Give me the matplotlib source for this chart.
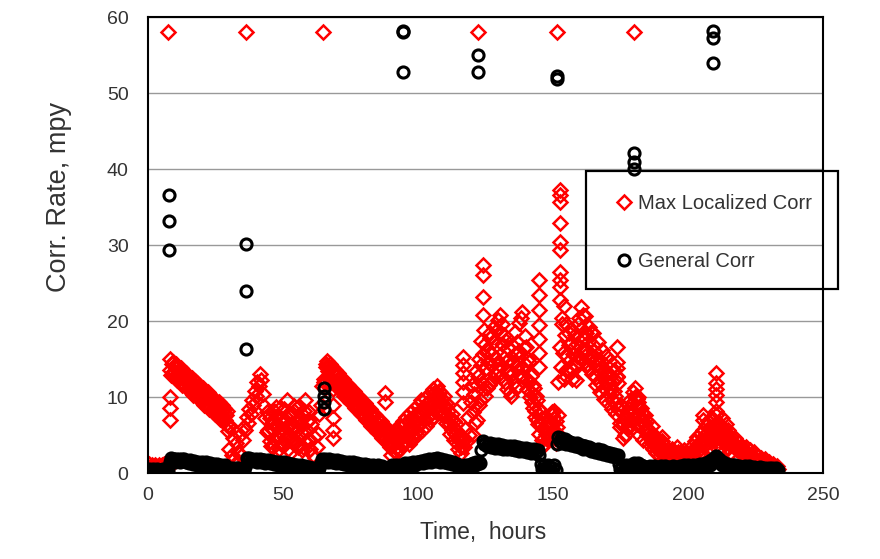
import numpy as np
import matplotlib
matplotlib.use("Agg")
import matplotlib.pyplot as plt
from matplotlib.lines import Line2D
from matplotlib.patches import Rectangle

plt.rcParams["font.family"] = ["Liberation Sans", "DejaVu Sans"]

# ---- data: logged every 0.5 h ----
red_t = np.arange(0, 234, 0.5)
red_v = [
    0.8, 1.2, 0.5, 1.0, 0.7, 1.1, 0.9, 0.5, 1.1, 0.7,            # 0
    1.0, 0.6, 1.2, 0.8, 1.0, 0.6, 13.6, 12.9, 14.3, 13.4,        # 5
    14.1, 12.7, 13.2, 13.3, 12.5, 13.3, 11.9, 12.5, 12.0, 12.5,  # 10
    11.3, 12.3, 11.6, 11.1, 11.6, 10.5, 11.1, 11.4, 10.3, 10.4,  # 15
    10.9, 9.6, 10.1, 10.4, 9.0, 9.8, 9.0, 9.7, 8.4, 9.0,         # 20
    8.2, 9.1, 8.4, 7.6, 8.5, 7.6, 8.3, 7.0, 7.6, 5.5,            # 25
    3.2, 6.2, 2.4, 4.6, 1.8, 3.9, 1.5, 2.8, 5.0, 2.2,            # 30
    4.4, 6.0, 5.6, 7.4, 6.6, 8.4, 7.8, 9.6, 8.9, 10.8,           # 35
    10.2, 12.0, 11.4, 13.0, 12.2, 10.4, 8.8, 7.2, 8.0, 5.6,      # 40
    7.2, 3.6, 5.8, 8.2, 4.4, 8.7, 6.3, 3.2, 7.0, 5.2,            # 45
    3.8, 8.4, 6.0, 9.6, 4.6, 7.4, 2.8, 6.6, 8.1, 4.2,            # 50
    6.9, 3.4, 8.8, 5.4, 3.0, 7.6, 9.6, 5.8, 4.0, 8.0,            # 55
    3.2, 6.4, 2.4, 4.8, 2.0, 3.4, 5.2, 7.8, 9.0, 11.4,           # 60
    12.4, 11.2, 14.4, 13.4, 14.0, 12.6, 13.4, 12.3, 12.9, 11.9,  # 65
    13.0, 11.4, 11.9, 12.1, 11.0, 12.0, 10.5, 11.1, 10.4, 11.1,  # 70
    9.6, 10.8, 9.9, 9.2, 10.1, 8.6, 9.4, 9.5, 8.1, 8.6,          # 75
    9.0, 7.5, 8.0, 8.3, 6.8, 7.6, 6.7, 7.6, 6.1, 6.7,            # 80
    5.7, 6.8, 5.9, 5.0, 6.1, 4.7, 5.4, 4.1, 5.2, 3.8,            # 85
    2.4, 4.6, 3.0, 5.6, 2.6, 4.2, 6.2, 3.2, 5.0, 6.8,            # 90
    4.0, 7.4, 5.4, 3.8, 7.9, 6.0, 4.6, 8.4, 6.6, 5.0,            # 95
    8.9, 6.4, 9.6, 5.6, 7.8, 9.8, 6.2, 8.4, 10.4, 7.0,           # 100
    9.0, 11.0, 7.4, 10.2, 11.4, 8.2, 10.6, 9.4, 7.6, 10.2,       # 105
    8.8, 6.6, 9.0, 7.2, 5.2, 7.8, 6.0, 4.4, 6.4, 4.8,            # 110
    3.2, 5.0, 2.6, 4.2, 3.4, 5.8, 4.2, 7.4, 5.0, 9.4,            # 115
    11.6, 5.0, 9.0, 13.4, 7.0, 15.0, 9.6, 17.4, 11.0, 18.8,      # 120
    17.0, 11.2, 14.6, 17.8, 12.0, 15.6, 19.2, 13.0, 16.8, 20.2,  # 125
    14.4, 20.8, 17.0, 12.4, 18.2, 14.6, 11.0, 16.4, 12.8, 10.2,  # 130
    16.8, 12.0, 18.6, 14.0, 11.4, 19.8, 15.4, 21.2, 12.6, 18.0,  # 135
    16.6, 11.0, 14.6, 10.0, 12.8, 8.6, 11.2, 7.4, 9.6, 6.4,      # 140
    5.2, 8.0, 3.6, 5.8, 3.8, 6.0, 4.4, 7.0, 5.0, 7.6,            # 145
    5.6, 8.2, 4.0, 6.0, 12.0, 22.8, 14.0, 20.4, 12.4, 18.2,      # 150
    19.6, 13.4, 16.8, 19.0, 12.4, 15.6, 18.2, 12.2, 17.0, 20.4,  # 155
    15.2, 21.8, 17.8, 14.6, 20.6, 16.2, 13.8, 19.2, 15.4, 13.0,  # 160
    18.4, 14.2, 11.6, 17.2, 13.4, 10.6, 16.2, 12.6, 9.8, 15.4,   # 165
    11.8, 9.2, 14.8, 11.0, 8.4, 13.6, 10.2, 7.8, 11.8, 8.6,      # 170
    6.0, 8.8, 4.6, 7.0, 5.2, 8.2, 6.0, 9.6, 7.0, 10.6,           # 175
    8.0, 11.2, 6.4, 9.4, 5.0, 8.6, 6.2, 4.4, 7.6, 5.4,           # 180
    6.8, 3.8, 5.4, 6.2, 3.2, 4.8, 2.6, 4.6, 3.4, 2.2,            # 185
    3.6, 4.8, 2.4, 3.6, 1.6, 2.8, 1.4, 2.4, 3.2, 1.6,            # 190
    2.6, 1.3, 3.4, 2.0, 1.4, 2.8, 1.8, 3.0, 1.5, 2.4,            # 195
    1.4, 3.2, 2.0, 3.6, 1.8, 4.2, 2.6, 4.8, 3.0, 5.2,            # 200
    2.8, 5.6, 3.6, 6.2, 4.0, 6.8, 3.4, 5.6, 7.2, 4.4,            # 205
    6.4, 7.6, 3.2, 6.6, 4.8, 7.2, 2.8, 5.8, 6.4, 3.4,            # 210
    5.6, 2.6, 4.8, 3.6, 2.2, 4.6, 3.2, 1.8, 4.0, 2.6,            # 215
    3.4, 1.6, 2.8, 3.4, 1.4, 2.4, 3.0, 1.2, 2.2, 2.8,            # 220
    1.2, 2.3, 1.6, 0.8, 2.0, 1.4, 0.7, 1.8, 1.1, 0.6,            # 225
    1.5, 0.9, 0.5, 1.2, 0.7, 0.4, 0.9, 0.5,                      # 230
]

# extra readings in between (quarter-hour offsets)
red_fill_a_t = np.arange(44.25, 60, 0.5)
red_fill_a_v = [
    5.4, 7.8, 4.2, 6.6, 3.4, 5.6, 7.4, 4.8, 6.2, 8.6,
    3.8, 5.8, 7.0, 4.6, 6.8, 3.2, 5.2, 7.8, 4.2, 6.0,
    8.8, 3.6, 5.6, 7.2, 4.8, 6.4, 3.4, 8.2, 5.4, 6.8,
    4.4, 7.0,
]
red_fill_b_t = np.arange(90.25, 116, 0.5)
red_fill_b_v = [
    3.6, 5.0, 3.8, 4.4, 5.2, 3.0, 4.8, 6.0, 4.0, 5.4,
    6.4, 4.8, 6.8, 5.6, 4.4, 7.0, 5.8, 7.6, 5.4, 7.2,
    7.6, 8.2, 6.6, 8.6, 7.0, 8.0, 9.2, 7.4, 8.6, 9.6,
    8.0, 9.2, 10.6, 8.6, 9.6, 10.8, 8.4, 9.8, 8.8, 7.8,
    9.2, 7.6, 8.2, 6.4, 7.0, 5.6, 6.8, 5.2, 5.6, 3.8,
    4.4, 3.4,
]
red_fill_c_t = np.arange(120.25, 175, 0.5)
red_fill_c_v = [
    8.0, 10.4, 6.6, 11.6, 12.8, 9.0, 14.2, 11.8, 15.6, 10.2,
    13.8, 16.0, 11.6, 18.4, 14.2, 12.4, 17.4, 15.0, 18.8, 13.6,
    18.6, 12.8, 19.6, 15.2, 12.0, 17.4, 13.4, 15.0, 10.6, 14.6,
    13.2, 15.6, 11.2, 17.2, 16.0, 12.8, 20.4, 13.8, 16.4, 14.4,
    12.4, 15.0, 12.0, 10.6, 9.4, 11.6, 8.2, 10.2, 7.0, 8.4,
    6.6, 4.4, 7.0, 4.6, 5.2, 6.6, 5.8, 4.8, 6.4, 8.0,
    7.2, 4.6, 6.8, 7.6, 5.0, 16.6, 19.6, 15.8, 22.0, 13.6,
    15.4, 18.4, 14.0, 17.2, 13.6, 16.6, 14.2, 15.4, 19.6, 14.6,
    19.0, 16.2, 20.8, 15.4, 18.4, 14.4, 17.4, 15.0, 18.6, 16.8,
    16.0, 12.6, 15.0, 14.4, 11.8, 13.8, 14.6, 11.2, 13.0, 12.0,
    13.2, 10.4, 12.6, 9.6, 12.0, 10.8, 9.2, 12.8, 8.4, 6.6,
]
red_fill_d_t = np.arange(8.25, 30, 0.5)
red_fill_d_v = [
    15.0, 12.9, 14.6, 12.7, 14.4, 12.2, 14.0, 12.0, 13.8, 11.6,
    13.3, 11.4, 13.1, 11.0, 12.7, 10.7, 12.5, 10.3, 12.1, 10.1,
    11.8, 9.7, 11.4, 9.5, 11.2, 9.0, 10.8, 8.8, 10.6, 8.4,
    10.1, 8.2, 9.9, 7.8, 9.5, 7.5, 9.3, 7.1, 8.9, 6.9,
    8.6, 6.5, 8.2, 6.2,
]
red_fill_e_t = np.arange(65.25, 90, 0.5)
red_fill_e_v = [
    12.0, 14.0, 14.8, 12.6, 14.3, 12.3, 14.0, 11.8, 13.5, 11.5,
    13.2, 11.0, 12.7, 10.7, 12.4, 10.2, 11.9, 9.9, 11.6, 9.4,
    11.1, 9.1, 10.8, 8.6, 10.3, 8.3, 10.0, 7.8, 9.5, 7.5,
    9.2, 7.0, 8.7, 6.7, 8.4, 6.2, 7.9, 5.9, 7.6, 5.4,
    7.1, 5.1, 6.8, 4.6, 6.3, 4.3, 5.9, 3.9, 5.4, 3.4,
]
red_fill_f_t = np.arange(176.25, 232, 0.5)
red_fill_f_v = [
    6.4, 5.0, 7.4, 6.2, 8.4, 7.0, 9.2, 8.0,
    10.0, 8.8, 9.8, 7.6, 8.4, 6.8, 7.8, 5.6,
    6.6, 5.0, 5.8, 4.6, 5.0, 4.0, 4.6, 3.6,
    4.0, 3.0, 3.6, 2.8, 4.2, 3.2, 2.6, 2.0,
    2.4, 1.8, 2.6, 1.6, 2.2, 2.8, 1.8, 2.4,
    2.8, 1.6, 2.2, 2.0, 2.6, 1.8, 2.2, 1.8,
    2.4, 2.6, 2.8, 2.4, 3.2, 3.0, 3.6, 3.4,
    4.0, 3.8, 4.4, 4.0, 5.0, 4.6, 5.4, 4.8,
    6.0, 4.8, 5.6, 6.2, 5.0, 5.6, 4.8, 5.4,
    6.0, 4.2, 4.6, 5.2, 4.6, 4.8, 4.0, 4.2,
    3.8, 4.0, 3.4, 3.2, 3.6, 3.0, 2.8, 3.2,
    2.6, 2.4, 2.2, 2.6, 2.0, 2.2, 1.8, 2.0,
    1.6, 1.8, 1.6, 1.4, 1.2, 1.5, 1.2, 1.0,
    1.3, 0.9, 1.1, 0.8, 1.0, 0.7, 0.8, 0.6,
]

# isolated high readings
red_spike_t = [8.0, 8.0, 8.0, 68.5, 68.5, 68.5, 68.5, 68.5, 87.8, 87.8,
               116.5, 116.5, 116.5, 116.5, 116.5, 116.5, 124.0, 124.0, 124.0, 124.0,
               144.8, 144.8, 144.8, 144.8, 144.8, 144.8, 144.8,
               152.6, 152.6, 152.6, 152.6, 152.6, 152.6, 152.6, 152.6, 152.6,
               173.6, 173.6, 173.6, 173.6, 181.5, 181.5, 181.5, 203.5, 205.5, 205.5,
               210.4, 210.4, 210.4, 210.4, 210.4, 210.4,
               7.5, 36.2, 64.7, 122.3, 151.4, 180.0]
red_spike_v = [10.0, 8.5, 7.0, 11.0, 9.0, 7.2, 5.6, 4.6, 10.5, 9.4,
               15.3, 14.2, 13.1, 12.0, 10.6, 9.2, 27.4, 26.1, 23.2, 20.8,
               25.4, 23.4, 21.4, 19.5, 17.6, 15.8, 14.0,
               37.2, 36.6, 35.7, 32.9, 30.4, 29.3, 26.5, 25.4, 24.5,
               16.6, 14.6, 13.8, 12.7, 10.0, 8.6, 7.4, 4.8, 7.7, 7.0,
               13.1, 11.8, 11.1, 10.3, 9.4, 8.1,
               58.0, 58.0, 58.0, 58.0, 58.0, 58.0]

blk_t = np.arange(0, 234, 0.5)
blk_v = [
    0.3, 0.5, 0.2, 0.4, 0.5, 0.2, 0.3, 0.5, 0.3, 0.4,   # 0
    0.2, 0.5, 0.3, 0.4, 0.6, 0.3, 1.5, 2.0, 1.7, 1.9,   # 5
    1.5, 1.9, 1.7, 1.8, 1.4, 1.8, 1.6, 1.8, 1.4, 1.6,   # 10
    1.3, 1.7, 1.5, 1.2, 1.6, 1.4, 1.1, 1.5, 1.3, 1.1,   # 15
    1.5, 1.0, 1.3, 1.4, 1.0, 1.2, 1.3, 0.9, 1.1, 1.2,   # 20
    0.8, 1.2, 1.0, 0.7, 1.1, 0.9, 0.6, 1.0, 0.7, 0.4,   # 25
    0.5, 0.2, 0.7, 0.3, 0.1, 0.6, 0.2, 0.7, 0.4, 0.2,   # 30
    0.5, 0.2, 0.8, 2.0, 1.7, 2.0, 1.6, 1.9, 1.7, 1.6,   # 35
    1.9, 1.5, 1.7, 1.8, 1.4, 1.7, 1.7, 1.3, 1.6, 1.7,   # 40
    1.3, 1.5, 1.6, 1.2, 1.4, 1.5, 1.1, 1.3, 1.4, 1.1,   # 45
    1.2, 1.4, 1.0, 1.2, 1.3, 0.9, 1.1, 1.2, 0.8, 1.0,   # 50
    1.1, 0.8, 0.9, 1.0, 0.7, 0.8, 0.9, 0.6, 0.7, 0.8,   # 55
    0.4, 0.6, 0.2, 0.7, 0.3, 0.5, 0.1, 0.6, 1.3, 1.8,   # 60
    1.5, 1.9, 1.7, 1.5, 1.8, 1.6, 1.4, 1.7, 1.5, 1.3,   # 65
    1.7, 1.4, 1.3, 1.6, 1.3, 1.2, 1.5, 1.3, 1.1, 1.4,   # 70
    1.2, 1.0, 1.4, 1.2, 1.0, 1.3, 1.1, 0.9, 1.2, 1.0,   # 75
    0.8, 1.2, 1.0, 0.8, 1.1, 0.9, 0.7, 1.0, 0.9, 0.6,   # 80
    1.0, 0.8, 0.6, 0.9, 0.7, 0.5, 0.5, 0.1, 0.4, 0.2,   # 85
    0.6, 1.0, 0.8, 0.7, 1.0, 0.8, 0.7, 1.1, 0.9, 0.8,   # 90
    1.3, 1.0, 0.9, 1.3, 1.1, 1.0, 1.4, 1.2, 1.1, 1.5,   # 95
    1.5, 1.3, 1.6, 1.5, 1.3, 1.7, 1.6, 1.4, 1.8, 1.6,   # 100
    1.5, 1.9, 1.8, 1.6, 2.0, 1.7, 1.5, 1.8, 1.6, 1.4,   # 105
    1.7, 1.5, 1.3, 1.6, 1.4, 1.2, 1.4, 1.2, 1.0, 1.2,   # 110
    0.9, 0.4, 0.1, 0.6, 0.3, 1.0, 0.8, 1.1, 0.9, 1.2,   # 115
    1.0, 1.3, 1.1, 1.4, 1.2, 1.5, 1.3, 3.0, 4.2, 3.8,   # 120
    4.0, 3.5, 3.8, 3.9, 3.4, 3.7, 3.8, 3.3, 3.6, 3.8,   # 125
    3.3, 3.5, 3.7, 3.2, 3.4, 3.6, 3.1, 3.3, 3.5, 3.1,   # 130
    3.2, 3.5, 3.0, 3.2, 3.4, 2.9, 3.1, 3.3, 2.9, 3.1,   # 135
    3.3, 2.8, 3.0, 3.2, 2.7, 3.0, 3.1, 2.7, 2.9, 3.0,   # 140
    2.4, 1.2, 0.5, 1.0, 0.3, 0.7, 1.1, 0.3, 0.8, 0.2,   # 145
    0.6, 1.0, 0.4, 3.8, 4.8, 4.2, 4.6, 4.0, 4.4, 4.5,   # 150
    3.8, 4.2, 4.1, 3.7, 4.0, 4.0, 3.6, 3.8, 3.9, 3.4,   # 155
    3.6, 3.7, 3.2, 3.5, 3.6, 3.1, 3.3, 3.4, 2.9, 3.2,   # 160
    3.2, 2.8, 3.0, 3.1, 2.7, 2.9, 3.0, 2.5, 2.7, 2.8,   # 165
    2.4, 2.6, 2.7, 2.3, 2.5, 2.5, 2.1, 2.3, 2.4, 1.2,   # 170
    0.5, 0.9, 0.3, 0.7, 1.0, 0.6, 0.9, 1.1, 0.8, 1.0,   # 175
    1.3, 1.0, 1.2, 1.3, 0.9, 1.1, 0.7, 0.9, 0.6, 0.4,   # 180
    0.8, 0.5, 0.9, 0.4, 0.7, 0.9, 0.5, 0.8, 0.4, 0.7,   # 185
    0.9, 0.5, 0.7, 0.9, 0.4, 0.7, 0.8, 0.4, 0.6, 0.9,   # 190
    0.5, 0.8, 0.4, 0.7, 0.9, 0.5, 0.8, 1.0, 0.6, 0.8,   # 195
    1.0, 0.6, 0.9, 0.7, 1.1, 0.8, 0.6, 1.0, 0.8, 1.2,   # 200
    0.9, 1.2, 0.8, 1.3, 1.1, 1.5, 1.0, 1.7, 1.4, 2.0,   # 205
    1.7, 2.2, 1.4, 1.8, 1.5, 1.1, 1.5, 1.2, 0.8, 1.2,   # 210
    0.9, 1.1, 0.6, 1.0, 0.7, 1.0, 0.5, 0.8, 0.9, 0.5,   # 215
    0.8, 0.5, 0.9, 0.4, 0.7, 0.9, 0.5, 0.7, 0.3, 0.8,   # 220
    0.5, 0.7, 0.4, 0.8, 0.4, 0.6, 0.3, 0.7, 0.5, 0.4,   # 225
    0.6, 0.4, 0.6, 0.3, 0.5, 0.6, 0.3, 0.4,             # 230
]

blk_spike_t = [7.8, 7.8, 7.8, 36.3, 36.3, 36.3, 65.0, 65.0, 65.0, 65.0,
               94.3, 94.3, 94.3, 122.3, 122.3, 151.4, 151.4, 180.0, 180.0, 180.0,
               209.4, 209.4, 209.4]
blk_spike_v = [36.6, 33.1, 29.3, 30.1, 23.9, 16.3, 11.2, 10.2, 9.3, 8.4,
               58.0, 58.2, 52.8, 55.0, 52.8, 52.3, 51.9, 42.1, 40.9, 40.0,
               58.2, 57.3, 54.0]

x_ticks = [0, 50, 100, 150, 200, 250]
y_ticks = [0, 10, 20, 30, 40, 50, 60]

# ---- figure ----
fig = plt.figure(figsize=(8.8, 5.59), dpi=100)
ax = fig.add_axes([0.1682, 0.1538, 0.767, 0.8157])

red_kw = dict(linestyle="none", marker="D", markersize=7, markerfacecolor="none",
              markeredgecolor="#ff0000", markeredgewidth=1.8)
blk_kw = dict(linestyle="none", marker="o", markersize=8, markerfacecolor="none",
              markeredgecolor="black", markeredgewidth=2.2)

red_sets = [(red_t, red_v), (red_fill_a_t, red_fill_a_v), (red_fill_b_t, red_fill_b_v),
            (red_fill_c_t, red_fill_c_v), (red_fill_d_t, red_fill_d_v),
            (red_fill_e_t, red_fill_e_v), (red_fill_f_t, red_fill_f_v),
            (red_spike_t, red_spike_v)]
for t, v in red_sets:
    ax.plot(t, v, **red_kw)
ax.plot(blk_t, blk_v, **blk_kw)
ax.plot(blk_spike_t, blk_spike_v, **blk_kw)

ax.set_xlim(0, 250)
ax.set_ylim(0, 60)
ax.set_xticks(x_ticks)
ax.set_yticks(y_ticks)
ax.grid(axis="y", color="#999999", linewidth=1)
ax.set_axisbelow(True)
for s in ax.spines.values():
    s.set_color("black")
    s.set_linewidth(1.5)
ax.tick_params(axis="both", length=0, labelsize=14, labelcolor="#333333")
ax.tick_params(axis="y", pad=14)
ax.tick_params(axis="x", pad=10)

ax.set_xlabel("Time,  hours", fontsize=16.5, color="#333333")
ax.set_ylabel("Corr. Rate, mpy", fontsize=19.5, color="#333333")
ax.xaxis.set_label_coords(0.496, -0.105)
ax.yaxis.set_label_coords(-0.113, 0.605)

# legend box sticking out past the right edge of the plot
fig.add_artist(Rectangle((586 / 880, 1 - 289 / 559), 252 / 880, 118 / 559,
                         transform=fig.transFigure, fill=False,
                         edgecolor="black", linewidth=1.6))
handles = [Line2D([], [], **red_kw), Line2D([], [], **blk_kw)]
fig.legend(handles, ["Max Localized Corr", "General Corr"],
           loc="upper left", bbox_to_anchor=(598 / 880, 1 - 176 / 559),
           frameon=False, fontsize=14.5, handlelength=0.8, handletextpad=0.3,
           labelspacing=1.95, labelcolor="#333333")

fig.savefig("out.png", dpi=100, facecolor="white")
